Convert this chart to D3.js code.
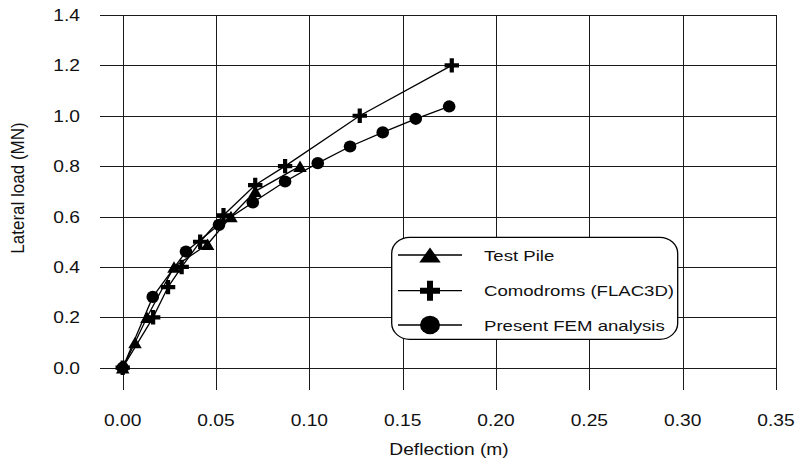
<!DOCTYPE html>
<html>
<head>
<meta charset="utf-8">
<script src="https://cdn.jsdelivr.net/npm/d3@7"></script>
<style>
  html, body { margin: 0; padding: 0; background: #fff; }
  svg { display: block; }
  text { font-family: "Liberation Sans", Arial, sans-serif; fill: #111; }
</style>
</head>
<body>
<div id="chart"></div>
<script>
// values
const xTicks = [0, 0.05, 0.10, 0.15, 0.20, 0.25, 0.30, 0.35];
const yTicks = [0, 0.2, 0.4, 0.6, 0.8, 1.0, 1.2, 1.4];

const testPile = [
  [0, 0], [0.0066, 0.10], [0.013, 0.20], [0.0275, 0.40], [0.0455, 0.49],
  [0.058, 0.60], [0.071, 0.70], [0.095, 0.80]
];
const comodroms = [
  [0, 0], [0.0163, 0.20], [0.0243, 0.32], [0.0316, 0.40], [0.0415, 0.50],
  [0.054, 0.605], [0.071, 0.725], [0.087, 0.80], [0.127, 1.00], [0.1763, 1.20]
];
const fem = [
  [0, 0], [0.0161, 0.281], [0.0339, 0.461], [0.0516, 0.567], [0.0697, 0.656],
  [0.087, 0.739], [0.1045, 0.812], [0.1218, 0.878], [0.1393, 0.934],
  [0.157, 0.988], [0.1749, 1.037]
];
const seriesNames = ['Test Pile', 'Comodroms (FLAC3D)', 'Present FEM analysis'];

const W = 798, H = 463;
const SX = 1.2; // picture is a bit stretched sideways

const svg = d3.select('#chart').append('svg')
  .attr('width', W)
  .attr('height', H);

const x = d3.scaleLinear().domain([0, 0.35]).range([122.7, 776]);
const y = d3.scaleLinear().domain([0, 1.4]).range([367.7, 15]);

function label(g, px, py, txt, anchor, size) {
  return g.append('text')
    .attr('transform', `translate(${px},${py}) scale(${SX},1)`)
    .attr('text-anchor', anchor)
    .style('font-size', size + 'px')
    .text(txt);
}

// grid
const grid = svg.append('g').attr('stroke', '#1a1a1a').attr('stroke-width', 1);
grid.selectAll('.hl')
  .data(yTicks)
  .enter()
  .append('line')
  .attr('x1', 100)
  .attr('x2', x(0.35))
  .attr('y1', d => Math.round(y(d)) + 0.5)
  .attr('y2', d => Math.round(y(d)) + 0.5);

grid.selectAll('.vl')
  .data(xTicks)
  .enter()
  .append('line')
  .attr('x1', d => Math.round(x(d)) + 0.5)
  .attr('x2', d => Math.round(x(d)) + 0.5)
  .attr('y1', y(1.4))
  .attr('y2', 390);

// tick labels
const labels = svg.append('g');
yTicks.forEach(t => label(labels, 80, y(t) + 6, t.toFixed(1), 'end', 16));
xTicks.forEach(t => label(labels, x(t), 426, t.toFixed(2), 'middle', 16));

label(labels, 449, 455, 'Deflection (m)', 'middle', 16);

labels.append('text')
  .attr('transform', `translate(24,188) scale(1.05,1) rotate(-90)`)
  .attr('text-anchor', 'middle')
  .style('font-size', '17px')
  .text('Lateral load (MN)');

// markers
function trianglePath(w, h) {
  return `M0,${-h / 2}L${w / 2},${h / 2}L${-w / 2},${h / 2}Z`;
}
function crossPath(a, t) {
  return `M${-t},${-a}H${t}V${-t}H${a}V${t}H${t}V${a}H${-t}V${t}H${-a}V${-t}H${-t}Z`;
}
function circlePath(rx, ry) {
  return `M${-rx},0A${rx},${ry} 0 1,0 ${rx},0A${rx},${ry} 0 1,0 ${-rx},0Z`;
}

const line = d3.line().x(d => x(d[0])).y(d => y(d[1]));

const series = [
  { data: testPile, marker: trianglePath(13.5, 11.5) },
  { data: comodroms, marker: crossPath(7.2, 2.1) },
  { data: fem, marker: circlePath(6.3, 6.1) }
];

const plot = svg.append('g');
series.forEach(s => {
  plot.append('path')
    .attr('d', line(s.data))
    .attr('fill', 'none')
    .attr('stroke', '#000')
    .attr('stroke-width', 1.3);
});
series.forEach(s => {
  plot.selectAll(null)
    .data(s.data)
    .enter()
    .append('path')
    .attr('d', s.marker)
    .attr('transform', d => `translate(${x(d[0])},${y(d[1])})`)
    .attr('fill', '#000');
});

// legend
const legend = svg.append('g');
legend.append('rect')
  .attr('x', 391.7)
  .attr('y', 237.3)
  .attr('width', 286)
  .attr('height', 102)
  .attr('rx', 18)
  .attr('ry', 16)
  .attr('fill', '#fff')
  .attr('stroke', '#000')
  .attr('stroke-width', 1.3);

const legendMarkers = [trianglePath(21.5, 15), crossPath(10, 3), circlePath(10, 9.2)];
const rowY = [255, 290.7, 325];
seriesNames.forEach((name, i) => {
  legend.append('line')
    .attr('x1', 398).attr('x2', 462)
    .attr('y1', rowY[i]).attr('y2', rowY[i])
    .attr('stroke', '#000')
    .attr('stroke-width', 1.3);
  legend.append('path')
    .attr('d', legendMarkers[i])
    .attr('transform', `translate(430,${rowY[i]})`)
    .attr('fill', '#000');
  label(legend, 484, rowY[i] + 5.5, name, 'start', 15.5);
});
</script>
</body>
</html>
